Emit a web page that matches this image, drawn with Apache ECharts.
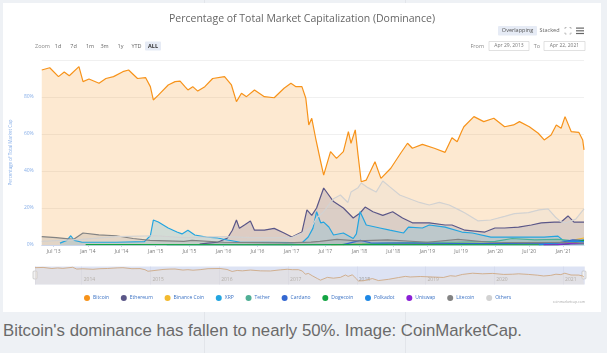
<!DOCTYPE html>
<html>
<head>
<meta charset="utf-8">
<script src="https://cdn.jsdelivr.net/npm/echarts@6/dist/echarts.min.js"></script>
<style>
  html, body { margin: 0; padding: 0; width: 607px; height: 353px; overflow: hidden; background: #eef1f5; }
  #card { position: absolute; left: 3px; top: 3px; width: 598px; height: 309px; background: #fff; }
  #chart { position: absolute; left: 0; top: 0; width: 607px; height: 312px; }
  .rule { position: absolute; width: 1px; background: #e2e5ea; }
  #caption { position: absolute; left: 3px; top: 321px; font-family: 'Liberation Sans', Arial, sans-serif; font-size: 16.8px; color: #6a6a6a; white-space: nowrap; }
</style>
</head>
<body>
<div class="rule" style="left:204px; top:0; height:3px"></div>
<div class="rule" style="left:405px; top:0; height:3px"></div>
<div class="rule" style="left:204px; top:312px; height:41px"></div>
<div class="rule" style="left:405px; top:312px; height:41px"></div>
<div id="card"></div>
<div id="chart"></div>
<div id="caption">Bitcoin's dominance has fallen to nearly 50%. Image: CoinMarketCap.</div>
<script>
// dominance in % of total market cap
const startDate = '2013-04-28'
const endDate = '2021-04-22'

const bitcoin = [
  ['2013-04-28', 94.6], ['2013-06-10', 95.8], ['2013-07-27', 91.0], ['2013-08-27', 93.5],
  ['2013-09-23', 91.5], ['2013-11-14', 96.4], ['2013-12-06', 88.3], ['2014-01-07', 89.7],
  ['2014-03-02', 87.4], ['2014-04-08', 90.0], ['2014-05-19', 91.0], ['2014-07-08', 93.7],
  ['2014-08-08', 94.6], ['2014-09-25', 90.0], ['2014-11-07', 90.5], ['2014-12-03', 85.6],
  ['2014-12-19', 78.4], ['2015-01-15', 81.0], ['2015-03-09', 86.5], ['2015-04-15', 88.3],
  ['2015-05-12', 88.6], ['2015-06-07', 85.6], ['2015-06-23', 83.8], ['2015-07-19', 85.6],
  ['2015-08-15', 83.2], ['2015-09-22', 85.6], ['2015-11-03', 90.0], ['2016-01-06', 91.0],
  ['2016-02-12', 86.5], ['2016-03-10', 77.5], ['2016-04-06', 82.0], ['2016-05-03', 80.2],
  ['2016-06-15', 83.8], ['2016-08-07', 80.2], ['2016-09-29', 79.6], ['2016-11-21', 84.7],
  ['2016-12-28', 87.4], ['2017-01-24', 85.6], ['2017-02-25', 85.6], ['2017-03-18', 79.3],
  ['2017-04-03', 64.9], ['2017-04-19', 68.5], ['2017-05-10', 57.7], ['2017-06-06', 45.0],
  ['2017-06-22', 37.8], ['2017-07-29', 50.5], ['2017-08-30', 46.8], ['2017-10-06', 50.5],
  ['2017-11-02', 61.3], ['2017-11-16', 55.0], ['2017-12-09', 62.2], ['2017-12-24', 48.6],
  ['2018-01-10', 34.2], ['2018-02-06', 35.1], ['2018-03-25', 45.0], ['2018-04-26', 36.0],
  ['2018-06-18', 41.5], ['2018-08-10', 49.6], ['2018-09-16', 55.0], ['2018-10-12', 52.3],
  ['2018-12-05', 54.4], ['2019-02-07', 52.3], ['2019-04-06', 50.1], ['2019-05-13', 58.0],
  ['2019-06-10', 55.8], ['2019-07-05', 61.6], ['2019-07-16', 63.9], ['2019-09-08', 69.4],
  ['2019-10-31', 66.7], ['2019-12-24', 68.5], ['2020-02-20', 63.9], ['2020-04-08', 64.9],
  ['2020-05-10', 66.7], ['2020-07-02', 63.9], ['2020-08-19', 60.4], ['2020-09-20', 56.8],
  ['2020-10-27', 59.5], ['2020-11-24', 64.9], ['2020-12-20', 63.1], ['2021-01-10', 69.4],
  ['2021-02-12', 61.3], ['2021-03-25', 60.9], ['2021-04-15', 56.8], ['2021-04-22', 51.4]
]

const ethereum = [
  ['2015-08-25', 0.5], ['2015-10-08', 1.0], ['2015-11-30', 1.5], ['2016-01-22', 3.8],
  ['2016-02-17', 8.0], ['2016-03-10', 13.5], ['2016-03-26', 9.0], ['2016-04-22', 10.8],
  ['2016-05-24', 13.0], ['2016-06-15', 8.0], ['2016-08-07', 8.0], ['2016-09-29', 9.0],
  ['2016-11-21', 6.5], ['2017-01-02', 4.3], ['2017-02-25', 7.0], ['2017-03-24', 19.0],
  ['2017-04-19', 16.0], ['2017-05-15', 20.0], ['2017-06-22', 30.8], ['2017-08-14', 23.5],
  ['2017-10-06', 20.0], ['2017-11-28', 14.6], ['2018-01-04', 17.3], ['2018-01-31', 20.5],
  ['2018-03-14', 18.0], ['2018-05-06', 16.0], ['2018-06-28', 18.0], ['2018-08-20', 14.6],
  ['2018-10-12', 12.0], ['2019-01-11', 12.0], ['2019-04-06', 10.8], ['2019-05-13', 10.8],
  ['2019-07-22', 8.0], ['2019-11-06', 7.0], ['2019-12-30', 9.2], ['2020-02-20', 9.2],
  ['2020-05-05', 9.7], ['2020-07-13', 10.8], ['2020-09-04', 12.0], ['2020-11-13', 12.4],
  ['2020-12-20', 12.4], ['2021-01-26', 15.7], ['2021-02-27', 12.4], ['2021-04-22', 12.4]
]

const binanceCoin = [
  ['2017-08-01', 0.1], ['2018-01-15', 0.5], ['2018-06-01', 0.6], ['2019-01-01', 0.5],
  ['2019-06-01', 1.0], ['2020-01-01', 0.8], ['2020-12-01', 0.8], ['2021-02-10', 2.0],
  ['2021-03-01', 2.8], ['2021-04-22', 3.8]
]

const xrp = [
  ['2013-08-04', 1.0], ['2013-09-10', 2.5], ['2013-10-01', 5.0], ['2013-10-20', 2.5],
  ['2013-12-01', 1.5], ['2014-06-01', 1.5], ['2014-11-01', 1.8], ['2014-12-03', 5.0],
  ['2014-12-19', 13.5], ['2015-01-15', 12.4], ['2015-03-09', 9.2], ['2015-04-25', 7.0],
  ['2015-05-22', 6.0], ['2015-06-23', 8.0], ['2015-07-30', 5.4], ['2015-10-01', 4.3],
  ['2015-11-30', 3.8], ['2016-01-22', 2.7], ['2016-04-01', 1.5], ['2016-09-01', 1.5],
  ['2017-01-01', 1.3], ['2017-03-01', 1.5], ['2017-03-31', 4.3], ['2017-04-25', 9.0],
  ['2017-05-15', 18.0], ['2017-06-06', 12.0], ['2017-06-22', 12.4], ['2017-07-20', 9.7],
  ['2017-08-14', 5.4], ['2017-10-06', 6.5], ['2017-11-28', 3.5], ['2017-12-15', 6.0],
  ['2018-01-04', 18.0], ['2018-02-06', 10.8], ['2018-04-20', 9.2], ['2018-06-13', 8.0],
  ['2018-08-26', 6.5], ['2018-09-21', 9.7], ['2018-12-05', 9.2], ['2019-01-11', 10.8],
  ['2019-04-06', 9.7], ['2019-07-05', 7.0], ['2019-08-31', 6.5], ['2019-12-08', 4.3],
  ['2020-05-05', 4.3], ['2020-09-20', 4.3], ['2020-12-03', 4.8], ['2020-12-28', 2.7],
  ['2021-02-12', 1.6], ['2021-04-22', 2.7]
]

const tether = [
  ['2015-03-01', 0.0], ['2017-01-01', 0.1], ['2017-10-01', 0.3], ['2018-01-15', 0.5],
  ['2018-06-01', 1.0], ['2019-01-01', 1.5], ['2019-06-01', 1.5], ['2020-01-01', 2.0],
  ['2020-04-01', 3.5], ['2020-08-01', 2.8], ['2020-12-01', 3.0], ['2021-02-01', 2.5],
  ['2021-04-22', 2.2]
]

const cardano = [
  ['2017-10-05', 0.2], ['2018-01-05', 2.5], ['2018-03-01', 1.2], ['2018-09-01', 1.0],
  ['2019-06-01', 0.8], ['2020-06-01', 0.8], ['2020-12-01', 1.0], ['2021-02-20', 2.8],
  ['2021-04-22', 2.5]
]

const dogecoin = [
  ['2013-12-20', 0.2], ['2014-06-01', 0.2], ['2017-01-01', 0.05], ['2018-01-05', 0.2],
  ['2020-12-01', 0.1], ['2021-01-30', 0.6], ['2021-04-18', 2.5], ['2021-04-22', 2.4]
]

const polkadot = [
  ['2020-08-22', 0.1], ['2020-09-01', 0.8], ['2020-11-01', 1.0], ['2021-01-01', 1.2],
  ['2021-02-15', 2.0], ['2021-04-22', 1.8]
]

const uniswap = [
  ['2020-09-17', 0.1], ['2020-12-01', 0.2], ['2021-02-01', 0.7], ['2021-04-22', 0.8]
]

const litecoin = [
  ['2013-04-28', 4.5], ['2013-07-15', 4.0], ['2013-10-15', 3.0], ['2013-12-06', 6.5],
  ['2014-03-01', 5.5], ['2014-06-01', 5.0], ['2014-09-01', 3.5], ['2014-12-01', 2.5],
  ['2015-06-01', 2.0], ['2015-07-15', 2.5], ['2016-01-01', 1.5], ['2016-12-01', 1.2],
  ['2017-04-15', 1.6], ['2017-06-01', 2.0], ['2017-09-01', 3.0], ['2017-12-20', 2.2],
  ['2018-06-01', 2.8], ['2019-01-01', 1.5], ['2019-06-15', 3.0], ['2019-12-01', 1.5],
  ['2020-06-01', 1.3], ['2021-01-01', 1.5], ['2021-04-22', 1.0]
]

const others = [
  ['2013-04-28', 2.0], ['2013-12-01', 3.0], ['2014-06-01', 4.5], ['2015-01-01', 5.0],
  ['2015-06-01', 4.0], ['2016-01-01', 4.5], ['2016-06-01', 4.0], ['2017-01-01', 4.0],
  ['2017-02-25', 6.5], ['2017-04-19', 10.0], ['2017-05-15', 14.6], ['2017-06-22', 18.0],
  ['2017-08-14', 25.0], ['2017-09-20', 27.0], ['2017-10-30', 23.0], ['2017-11-16', 28.6],
  ['2017-12-24', 31.0], ['2018-01-10', 33.5], ['2018-02-15', 31.0], ['2018-03-31', 28.6],
  ['2018-05-06', 34.6], ['2018-06-18', 31.0], ['2018-08-05', 27.0], ['2018-09-27', 25.0],
  ['2018-11-19', 23.0], ['2019-01-11', 21.6], ['2019-03-06', 23.0], ['2019-04-28', 21.6],
  ['2019-06-20', 19.0], ['2019-07-22', 17.3], ['2019-10-01', 13.0], ['2019-12-08', 13.5],
  ['2020-02-20', 15.5], ['2020-04-13', 17.0], ['2020-06-27', 17.5], ['2020-08-24', 19.0],
  ['2020-10-11', 19.5], ['2020-11-20', 15.0], ['2020-12-20', 12.5], ['2021-01-15', 12.0],
  ['2021-03-09', 14.0], ['2021-04-22', 19.5]
]

const coins = [
  { name: 'Bitcoin', color: '#f7931a', data: bitcoin },
  { name: 'Ethereum', color: '#5b5788', data: ethereum },
  { name: 'Binance Coin', color: '#f3ba2f', data: binanceCoin },
  { name: 'XRP', color: '#23a5e0', data: xrp },
  { name: 'Tether', color: '#50af95', data: tether },
  { name: 'Cardano', color: '#3468d1', data: cardano },
  { name: 'Dogecoin', color: '#13a443', data: dogecoin },
  { name: 'Polkadot', color: '#1e88e5', data: polkadot },
  { name: 'Uniswap', color: '#8a1fd6', data: uniswap },
  { name: 'Litecoin', color: '#838383', data: litecoin },
  { name: 'Others', color: '#d2d2d2', data: others }
]

const monthNames = ['Jan', 'Feb', 'Mar', 'Apr', 'May', 'Jun', 'Jul', 'Aug', 'Sep', 'Oct', 'Nov', 'Dec']
const zoomButtons = ['1d', '7d', '1m', '3m', '1y', 'YTD', 'ALL']
const zoomX = [58, 73.5, 90, 104.5, 120.5, 136.5, 153]

const fontFamily = "'Open Sans', 'DejaVu Sans', sans-serif"
const DAY = 86400000

var chart = echarts.init(document.getElementById('chart'), null, { renderer: 'canvas' })

var series = coins.map(function (c) {
  return {
    type: 'line',
    name: c.name,
    data: c.data,
    symbol: 'none',
    xAxisIndex: 0,
    yAxisIndex: 0,
    lineStyle: { width: 1.2, color: c.color },
    itemStyle: { color: c.color },
    areaStyle: { color: c.color, opacity: 0.2 }
  }
})
// navigator line under the main plot
series.push({
  type: 'line',
  name: 'nav',
  data: bitcoin,
  symbol: 'none',
  xAxisIndex: 1,
  yAxisIndex: 1,
  silent: true,
  lineStyle: { width: 0.8, color: '#cda277' },
  areaStyle: { color: '#e9d9c8', opacity: 0.35 }
})

// toolbar bits (zoom buttons, date inputs, view toggles)
var graphics = [
  { type: 'text', x: 35, y: 46, style: { text: 'Zoom', fontSize: 5.5, fill: '#888', fontFamily: fontFamily, verticalAlign: 'middle' } },
  { type: 'rect', shape: { x: 145, y: 41.5, width: 16, height: 9, r: 1 }, style: { fill: '#e6ebf5' } },
  { type: 'rect', shape: { x: 498, y: 26, width: 39, height: 9.5, r: 1 }, style: { fill: '#e6ebf5' } },
  { type: 'text', x: 517.5, y: 30.8, style: { text: 'Overlapping', fontSize: 5.5, fill: '#555', fontFamily: fontFamily, align: 'center', verticalAlign: 'middle' } },
  { type: 'text', x: 549.5, y: 30.8, style: { text: 'Stacked', fontSize: 5.5, fill: '#666', fontFamily: fontFamily, align: 'center', verticalAlign: 'middle' } },
  { type: 'text', x: 484, y: 46, style: { text: 'From', fontSize: 5.5, fill: '#888', fontFamily: fontFamily, align: 'right', verticalAlign: 'middle' } },
  { type: 'rect', shape: { x: 489, y: 41.5, width: 40, height: 9 }, style: { fill: '#fff', stroke: '#ccc', lineWidth: 0.6 } },
  { type: 'text', x: 509, y: 46, style: { text: 'Apr 29, 2013', fontSize: 5, fill: '#777', fontFamily: fontFamily, align: 'center', verticalAlign: 'middle' } },
  { type: 'text', x: 540, y: 46, style: { text: 'To', fontSize: 5.5, fill: '#888', fontFamily: fontFamily, align: 'right', verticalAlign: 'middle' } },
  { type: 'rect', shape: { x: 544, y: 41.5, width: 41, height: 9 }, style: { fill: '#fff', stroke: '#ccc', lineWidth: 0.6 } },
  { type: 'text', x: 564.5, y: 46, style: { text: 'Apr 22, 2021', fontSize: 5, fill: '#777', fontFamily: fontFamily, align: 'center', verticalAlign: 'middle' } },
  // fullscreen icon
  { type: 'polyline', shape: { points: [[565, 29], [565, 27.5], [566.5, 27.5]] }, style: { stroke: '#aaa', lineWidth: 0.8, fill: null } },
  { type: 'polyline', shape: { points: [[569.5, 27.5], [571, 27.5], [571, 29]] }, style: { stroke: '#aaa', lineWidth: 0.8, fill: null } },
  { type: 'polyline', shape: { points: [[565, 32.5], [565, 34], [566.5, 34]] }, style: { stroke: '#aaa', lineWidth: 0.8, fill: null } },
  { type: 'polyline', shape: { points: [[569.5, 34], [571, 34], [571, 32.5]] }, style: { stroke: '#aaa', lineWidth: 0.8, fill: null } },
  // menu icon
  { type: 'rect', shape: { x: 576, y: 27.5, width: 8, height: 1.2 }, style: { fill: '#666' } },
  { type: 'rect', shape: { x: 576, y: 30.2, width: 8, height: 1.2 }, style: { fill: '#666' } },
  { type: 'rect', shape: { x: 576, y: 32.9, width: 8, height: 1.2 }, style: { fill: '#666' } },
  // navigator handles
  { type: 'rect', shape: { x: 33, y: 271, width: 4, height: 8, r: 1 }, style: { fill: '#f2f2f2', stroke: '#aaa', lineWidth: 0.5 } },
  { type: 'rect', shape: { x: 582, y: 271, width: 4, height: 8, r: 1 }, style: { fill: '#f2f2f2', stroke: '#aaa', lineWidth: 0.5 } },
  { type: 'text', x: 585, y: 301.5, style: { text: 'coinmarketcap.com', fontSize: 3.5, fill: '#aaa', fontFamily: fontFamily, align: 'right', verticalAlign: 'middle' } }
]
zoomButtons.forEach(function (b, i) {
  var isAll = b === 'ALL'
  graphics.push({
    type: 'text', x: zoomX[i], y: 46,
    style: { text: b, fontSize: 5.5, fill: isAll ? '#333' : '#666', fontWeight: isAll ? 'bold' : 'normal', fontFamily: fontFamily, align: 'center', verticalAlign: 'middle' }
  })
})

var option = {
  animation: false,
  textStyle: { fontFamily: fontFamily },
  title: {
    text: 'Percentage of Total Market Capitalization (Dominance)',
    left: 297,
    top: 9,
    textAlign: 'center',
    textStyle: { fontSize: 10.5, fontWeight: 'normal', color: '#666', fontFamily: fontFamily }
  },
  legend: {
    data: coins.map(function (c) { return c.name }),
    left: 79,
    top: 290,
    icon: 'circle',
    itemWidth: 6,
    itemHeight: 6,
    itemGap: 11.8,
    textStyle: { fontSize: 5, color: '#3b72c4', padding: [0, 0, 0, -2] }
  },
  grid: [
    { left: 35, right: 23, top: 60, height: 185 },
    { left: 35, right: 23, top: 266.5, height: 18, show: true, backgroundColor: '#dde3f4', borderWidth: 0 }
  ],
  xAxis: [
    {
      type: 'time',
      gridIndex: 0,
      min: startDate,
      max: endDate,
      minInterval: 181 * DAY,
      maxInterval: 184 * DAY,
      axisLine: { lineStyle: { color: '#ccd6eb', width: 1 } },
      axisTick: { show: true, length: 2, lineStyle: { color: '#ccd6eb' } },
      splitLine: { show: false },
      axisLabel: {
        fontSize: 5,
        color: '#777',
        margin: 4,
        hideOverlap: false,
        formatter: function (v) {
          var d = new Date(v)
          return monthNames[d.getMonth()] + " '" + String(d.getFullYear()).slice(2)
        }
      }
    },
    {
      type: 'time',
      gridIndex: 1,
      min: startDate,
      max: endDate,
      minInterval: 365 * DAY,
      maxInterval: 366 * DAY,
      axisLine: { show: false },
      axisTick: { show: false },
      splitLine: { show: true, lineStyle: { color: '#ccd3e8', width: 0.5 } },
      axisLabel: {
        inside: true,
        margin: 2,
        align: 'left',
        padding: [0, 0, 0, 2],
        fontSize: 5,
        color: '#999',
        formatter: function (v) { return String(new Date(v).getFullYear()) }
      }
    }
  ],
  yAxis: [
    {
      type: 'value',
      gridIndex: 0,
      min: 0,
      max: 100,
      interval: 20,
      name: 'Percentage of Total Market Cap',
      nameLocation: 'middle',
      nameGap: 21,
      nameTextStyle: { fontSize: 4.5, color: '#86aee8' },
      axisLine: { show: false },
      axisTick: { show: false },
      splitLine: { lineStyle: { color: '#ececec', width: 0.8 } },
      axisLabel: { fontSize: 5, color: '#86aee8', margin: 8, showMaxLabel: false, formatter: '{value}%' }
    },
    {
      type: 'value',
      gridIndex: 1,
      min: 18,
      max: 100,
      show: false
    }
  ],
  graphic: graphics,
  series: series
}

chart.setOption(option)
</script>
</body>
</html>
